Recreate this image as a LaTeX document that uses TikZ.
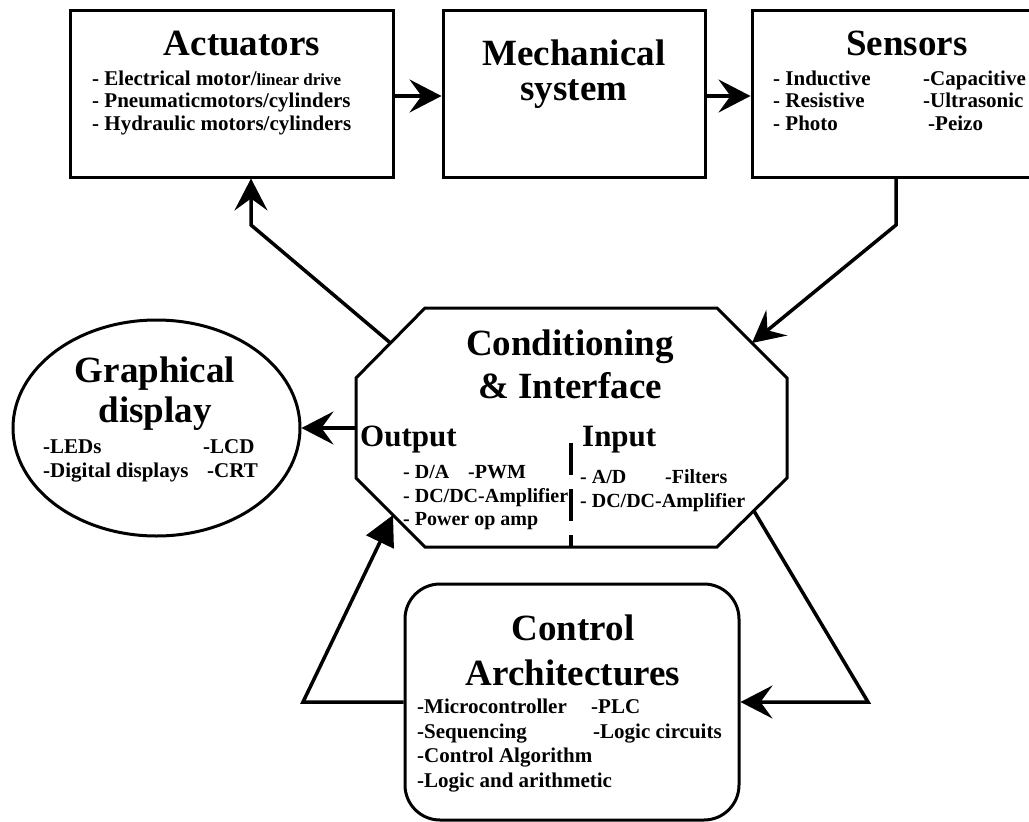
\documentclass[tikz,border=0pt]{standalone}
\usepackage{fontspec}
\setmainfont{Liberation Serif}
\usetikzlibrary{arrows.meta,shapes.geometric}
\begin{document}
\begin{tikzpicture}[x=1pt,y=-1pt,
  blk/.style={draw,line width=3pt,inner sep=0pt},
  hd/.style={font=\fontsize{37}{40}\selectfont\bfseries,anchor=base,inner sep=0pt},
  it/.style={font=\fontsize{21}{24}\selectfont\bfseries,anchor=base west,inner sep=0pt},
  io/.style={font=\fontsize{31}{34}\selectfont\bfseries,anchor=base west,inner sep=0pt},
  sm/.style={font=\fontsize{20}{22}\selectfont\bfseries,anchor=base west,inner sep=0pt},
  conn/.style={line width=3.5pt},
  arr/.style={conn,-{Stealth[length=32pt,width=33pt,inset=12pt]}},
  tri/.style={conn,-{Triangle[length=30pt,width=30pt]}}]
\useasboundingbox (0,0) rectangle (1029,822);
\fill[white] (0,0) rectangle (1029,822);

% top boxes
\node[blk,minimum width=323pt,minimum height=167pt] (act) at (231.5,93.5) {};
\node[blk,minimum width=262pt,minimum height=167pt] (mech) at (574,93.5) {};
\node[blk,minimum width=282pt,minimum height=167pt] (sens) at (893,93.5) {};

% graphical display
\node[blk,ellipse,minimum width=287pt,minimum height=216pt] (gd) at (156.5,428) {};

% control architectures
\node[blk,rounded corners=35pt,minimum width=334pt,minimum height=236pt] (ctrl) at (572,702) {};

% octagon
\coordinate (o1) at (425,308);
\coordinate (o2) at (717,308);
\coordinate (o3) at (787,378);
\coordinate (o4) at (787,478);
\coordinate (o5) at (717,547);
\coordinate (o6) at (425,547);
\coordinate (o7) at (356,478);
\coordinate (o8) at (356,378);
\draw[line width=3pt] (o1) -- (o2) -- (o3) -- (o4) -- (o5) -- (o6) -- (o7) -- (o8) -- cycle;
\coordinate (ctop) at (571,443);
\coordinate (cbot) at (571,547);
\draw[line width=4pt,dash pattern=on 32pt off 14pt] (ctop) -- (cbot);

% texts: actuators
\node[hd] (acth) at (242,55) {Actuators};
\node[it] (act1) at (92,85) {- Electrical motor/{\fontsize{17}{20}\selectfont linear drive}};
\node[it] (act2) at (92,107) {- Pneumaticmotors/cylinders};
\node[it] (act3) at (92,130) {- Hydraulic motors/cylinders};

% mechanical
\node[hd] (mech1) at (574,65) {Mechanical};
\node[hd] (mech2) at (574,100) {system};

% sensors
\node[hd] (sensh) at (907,55) {Sensors};
\node[it] (s1) at (773,85) {- Inductive};
\node[it] (s2) at (773,107) {- Resistive};
\node[it] (s3) at (773,130) {- Photo};
\node[it] (s4) at (923,85) {-Capacitive};
\node[it] (s5) at (923,107) {-Ultrasonic};
\node[it] (s6) at (928,130) {-Peizo};

% graphical display
\node[hd] (gd1) at (155,382) {Graphical};
\node[hd] (gd2) at (155,422) {display};
\node[it] (g1) at (43,453) {-LEDs};
\node[it] (g2) at (43,477) {-Digital displays};
\node[it] (g3) at (203,453) {-LCD};
\node[it] (g4) at (207,477) {-CRT};

% conditioning
\node[hd] (c1) at (570,355) {Conditioning};
\node[hd] (c2) at (570,398) {\& Interface};
\node[io] (outp) at (360,446) {Output};
\node[io] (inp) at (582,446) {Input};
\node[sm] (op1) at (403,478) {- D/A};
\node[sm] (op2) at (468,478) {-PWM};
\node[sm] (op3) at (403,502) {- DC/DC-Amplifier};
\node[sm] (op4) at (403,525) {- Power op amp};
\node[sm] (ip1) at (580,483) {- A/D};
\node[sm] (ip2) at (665,483) {-Filters};
\node[sm] (ip3) at (580,507) {- DC/DC-Amplifier};

% control
\node[hd] (ct1) at (573,640) {Control};
\node[hd] (ct2) at (573,685) {Architectures};
\node[it] (k1) at (417,713) {-Microcontroller};
\node[it] (k2) at (417,738) {-Sequencing};
\node[it] (k3) at (417,762) {-Control Algorithm};
\node[it] (k4) at (417,787) {-Logic and arithmetic};
\node[it] (k5) at (591,713) {-PLC};
\node[it] (k6) at (593,738) {-Logic circuits};

% connector points
\coordinate (yA) at (0,96);
\coordinate (oUL) at (390.5,343);
\coordinate (oUR) at (752,343);
\coordinate (oW) at (356,428);
\coordinate (oLL) at (393,515);
\coordinate (oLR) at (754,511);
\coordinate (aBend) at (251,225);
\coordinate (sBend) at (896,225);
\coordinate (lBend) at (303,702);
\coordinate (rBend) at (868,702);

% connectors
\draw[arr] (act.east |- yA) -- (mech.west |- yA);
\draw[arr] (mech.east |- yA) -- (sens.west |- yA);
\draw[arr] (oUL) -- (aBend) -- (aBend |- act.south);
\draw[arr] (sens.south -| sBend) -- (sBend) -- (oUR);
\draw[arr] (oW) -- (gd.east);
\draw[tri] (ctrl.west) -- (lBend) -- (oLL);
\draw[arr] (oLR) -- (rBend) -- (ctrl.east);
\end{tikzpicture}
\end{document}
